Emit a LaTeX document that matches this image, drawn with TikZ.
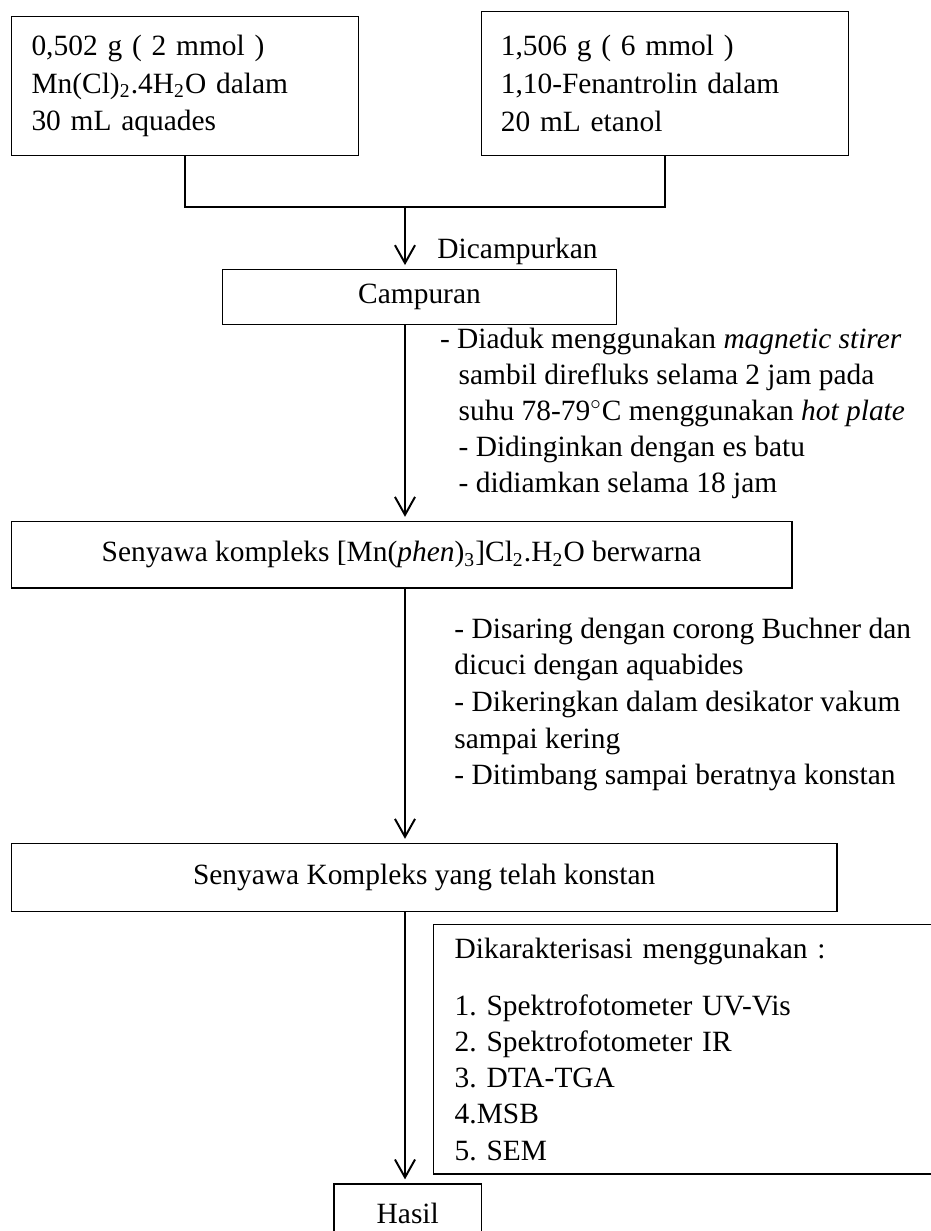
\documentclass[tikz,border=0pt]{standalone}
\usepackage{fontspec}
\setmainfont{Liberation Serif}
\usetikzlibrary{arrows.meta}
\frenchspacing

\begin{document}
\begin{tikzpicture}[x=0.408pt, y=-0.408pt,
    font=\fontsize{12pt}{14.8pt}\selectfont,
    box/.style={draw, line width=0.6pt, anchor=north west, inner sep=0pt},
    note/.style={anchor=base west, align=left, inner sep=0pt},
    flow/.style={line width=0.8pt},
    arrow/.style={flow, -{Straight Barb[length=7.3pt,width=8.2pt]}, shorten >=1.6pt}]
    \clip (0,0) rectangle (931,1231);
    % Add the starting solutions
    \node[box,
        minimum width=141.6pt, minimum height=56.7pt,
        text width=125.2pt, align=left,
        font=\fontsize{12pt}{15.3pt}\selectfont
        ] (mncl) at (10.7,15.7) {0,502 g ( 2 mmol )\\
        Mn(Cl)\textsubscript{2}.4H\textsubscript{2}O dalam\\
        30 mL aquades};
    \node[box,
        minimum width=149.7pt, minimum height=58.6pt,
        text width=133.9pt, align=left,
        font=\fontsize{12pt}{15.6pt}\selectfont
        ] (fen) at (480.7,11) {1,506 g ( 6 mmol )\\
        1,10-Fenantrolin dalam\\
        20 mL etanol};
    % Add the products
    \node[box,
        minimum width=160.8pt, minimum height=22.4pt
        ] (campur) at (221.7,269) {Campuran};
    \node[box,
        minimum width=318.4pt, minimum height=27.2pt
        ] (kompleks) at (10.7,520.7)
        {Senyawa kompleks [Mn(\textit{phen})\textsubscript{3}]Cl\textsubscript{2}.H\textsubscript{2}O berwarna};
    \node[box,
        minimum width=336.8pt, minimum height=27.7pt
        ] (konstan) at (10.7,842.7) {Senyawa Kompleks yang telah konstan};
    \node[box,
        minimum width=208.9pt, minimum height=101.9pt,
        text width=191.6pt, align=left
        ] (karakter) at (432.8,923.5) {Dikarakterisasi menggunakan :\\[8.5pt]
        1. Spektrofotometer UV-Vis\\
        2. Spektrofotometer IR\\
        3. DTA-TGA\\
        4.MSB\\
        5. SEM};
    \node[box,
        minimum width=60.1pt, minimum height=24.2pt
        ] (hasil) at (333.4,1183.3) {Hasil};
    % Add the notes (anchored on their last line)
    \node[note] (campurkan) at (437,258) {Dicampurkan};
    \node[note,
        font=\fontsize{12pt}{14.73pt}\selectfont
        ] (aduk) at (439.6,492.7) {- Diaduk menggunakan \textit{magnetic stirer}\\
        \hspace*{7.6pt}sambil direfluks selama 2 jam pada\\
        \hspace*{7.6pt}suhu 78-79$^{\circ}$C menggunakan \textit{hot plate}\\
        \hspace*{7.6pt}- Didinginkan dengan es batu\\
        \hspace*{7.6pt}- didiamkan selama 18 jam};
    \node[note,
        font=\fontsize{12pt}{14.95pt}\selectfont
        ] (saring) at (454,784.7) {- Disaring dengan corong Buchner dan\\
        dicuci dengan aquabides\\
        - Dikeringkan dalam desikator vakum\\
        sampai kering\\
        - Ditimbang sampai beratnya konstan};

    \coordinate (join) at (405,207);
    \draw[flow] (mncl.south) |- (join) -| (fen.south);
    \draw[flow]
        (join) edge[arrow] (join |- campur.north)
        (join |- campur.south) edge[arrow] (join |- kompleks.north)
        (join |- kompleks.south) edge[arrow] (join |- konstan.north)
        (join |- konstan.south) edge[arrow] (join |- hasil.north)
        ;
\end{tikzpicture}
\end{document}
